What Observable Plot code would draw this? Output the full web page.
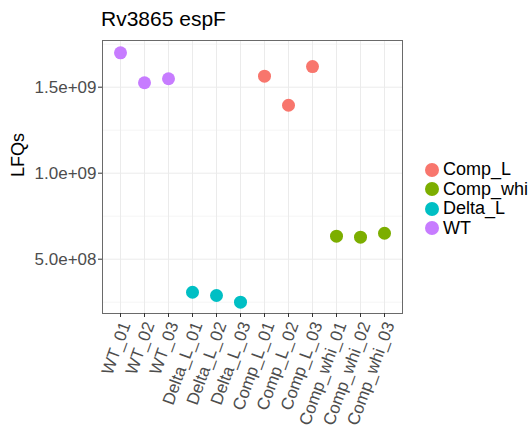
<!DOCTYPE html>
<html>
<head>
<meta charset="utf-8">
<script src="https://cdn.jsdelivr.net/npm/d3@7"></script>
<script src="https://cdn.jsdelivr.net/npm/@observablehq/plot@0.6"></script>
<style>
  html, body { margin: 0; padding: 0; background: white; }
  #wrap { position: relative; width: 529px; height: 427px; font-family: "Liberation Sans", Arial, sans-serif; }
  #title { position: absolute; left: 101px; top: 7px; font-size: 21px; color: #000; white-space: nowrap; }
  #legend { position: absolute; left: 425px; top: 160px; font-size: 18px; color: #000; }
  .row { display: flex; align-items: center; height: 19.5px; white-space: nowrap; }
  .sw { width: 14px; height: 14px; border-radius: 50%; margin-right: 4px; }
</style>
</head>
<body>
<div id="wrap">
  <div id="title"></div>
  <div id="legend"></div>
</div>
<script>
const title = "Rv3865 espF";
const yLabel = "LFQs";
const samples = ["WT_01","WT_02","WT_03","Delta_L_01","Delta_L_02","Delta_L_03","Comp_L_01","Comp_L_02","Comp_L_03","Comp_whi_01","Comp_whi_02","Comp_whi_03"];
const sampleGroups = ["WT","WT","WT","Delta_L","Delta_L","Delta_L","Comp_L","Comp_L","Comp_L","Comp_whi","Comp_whi","Comp_whi"];
const lfq = [1.70e9, 1.526e9, 1.549e9, 3.08e8, 2.89e8, 2.50e8, 1.564e9, 1.395e9, 1.620e9, 6.34e8, 6.28e8, 6.51e8];
const groups = ["Comp_L","Comp_whi","Delta_L","WT"];
const groupColors = ["#F8766D","#7CAE00","#00BFC4","#C77CFF"];
const yTicks = [5e8, 1e9, 1.5e9];
const yTickLabels = ["5.0e+08","1.0e+09","1.5e+09"];
const yMinor = [2.5e8, 7.5e8, 1.25e9, 1.75e9];

const data = samples.map((s, i) => ({sample: s, group: sampleGroups[i], value: lfq[i]}));
const font = '"Liberation Sans", Arial, sans-serif';

const chart = Plot.plot({
  width: 529, height: 427,
  marginLeft: 102, marginRight: 127, marginTop: 40, marginBottom: 114,
  style: {fontFamily: font, background: "transparent", overflow: "visible"},
  x: {type: "point", domain: samples, padding: 0.6},
  y: {domain: [1.843e8, 1.7715e9]},
  color: {domain: groups, range: groupColors},
  marks: [
    Plot.frame({fill: "white"}),
    Plot.gridY(yMinor, {stroke: "#F2F2F2", strokeOpacity: 1, strokeWidth: 0.8}),
    Plot.gridX({stroke: "#EBEBEB", strokeOpacity: 1, strokeWidth: 1}),
    Plot.gridY(yTicks, {stroke: "#EBEBEB", strokeOpacity: 1, strokeWidth: 1}),
    Plot.frame({stroke: "#6a6a6a", strokeWidth: 1}),
    Plot.dot(data, {x: "sample", y: "value", fill: "group", r: 6.5, stroke: null}),
    Plot.axisY(yTicks, {tickFormat: (d, i) => yTickLabels[i], fontSize: 17, tickSize: 4, tickPadding: 2, stroke: "#333", fill: "#4d4d4d", label: null}),
    Plot.axisX({tickSize: 4, stroke: "#333", text: null, label: null}),
    Plot.axisX({tickRotate: -70, fontSize: 17, tickSize: 0, tickPadding: 6, dx: 5, dy: 3, fill: "#4d4d4d", label: null}),
    Plot.text([yLabel], {frameAnchor: "left", rotate: -90, dx: -84, fontSize: 18, fill: "#000"})
  ]
});
const wrap = document.getElementById("wrap");
wrap.insertBefore(chart, wrap.firstChild);
document.getElementById("title").textContent = title;
const leg = document.getElementById("legend");
groups.forEach((g, i) => {
  const row = document.createElement("div");
  row.className = "row";
  const sw = document.createElement("div");
  sw.className = "sw";
  sw.style.background = groupColors[i];
  const t = document.createElement("span");
  t.textContent = g;
  row.appendChild(sw); row.appendChild(t);
  leg.appendChild(row);
});
</script>
</body>
</html>
